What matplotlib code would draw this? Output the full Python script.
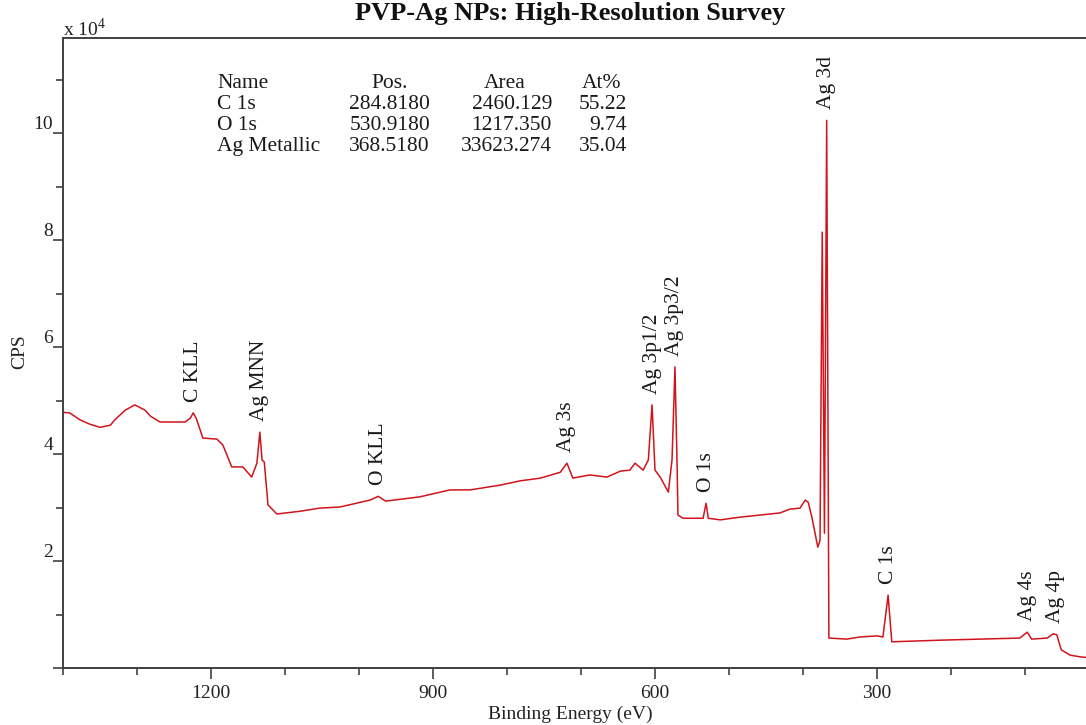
import numpy as np
import matplotlib
matplotlib.use("Agg")
import matplotlib.pyplot as plt
from matplotlib.ticker import MultipleLocator, FuncFormatter

# Survey spectrum: binding energy (eV) and counts per second
binding_energy = [
    1400, 1391, 1377, 1364, 1350, 1336, 1330, 1316, 1303, 1289, 1282, 1269,
    1255, 1235, 1228, 1224, 1220, 1211, 1192, 1184, 1172, 1157, 1145, 1138,
    1134, 1131, 1128, 1123, 1111, 1080, 1053, 1026, 985, 974, 964, 918, 877,
    850, 809, 782, 755, 728, 719, 711, 688, 665, 647, 634, 627, 616, 609,
    604, 600, 593, 582, 577, 573, 570, 569, 562, 535, 531, 528, 512, 485,
    458, 431, 418, 404, 397, 393, 388, 380, 377, 374, 371, 368, 365, 341,
    323, 300, 292, 285, 280, 215, 161, 107, 97, 91, 70, 62, 57, 51, 39, 26,
    12,
]
cps = [
    47800, 47700, 46400, 45600, 45000, 45400, 46400, 48200, 49200, 48200,
    47100, 46000, 46000, 46000, 46700, 47700, 46700, 43000, 42800, 41700,
    37600, 37600, 35700, 38300, 44100, 38900, 38500, 30500, 28800, 29300,
    29900, 30100, 31400, 32100, 31200, 32000, 33300, 33300, 34200, 35000,
    35500, 36600, 38300, 35500, 36100, 35700, 36800, 37000, 38300, 37000,
    38900, 49200, 37000, 35700, 32900, 38900, 56300, 37000, 28600, 28000,
    28000, 30800, 28000, 27700, 28200, 28600, 29000, 29700, 29900, 31400,
    31000, 28200, 22600, 23900, 81500, 25200, 102400, 5600, 5400, 5800,
    6000, 5800, 13600, 4900, 5200, 5400, 5600, 6700, 5400, 5600, 6400, 6200,
    3400, 2400, 2100, 1900,
]

# Peak assignments
peak_names = ["C KLL", "Ag MNN", "O KLL", "Ag 3s", "Ag 3p1/2", "Ag 3p3/2",
              "O 1s", "Ag 3d", "C 1s", "Ag 4s", "Ag 4p"]
peak_positions = [1224, 1134, 974, 719, 604, 573, 531, 368, 285, 97, 59]

# Quantification table
table_header = ["Name", "Pos.", "Area", "At%"]
table_names = ["C 1s", "O 1s", "Ag Metallic"]
table_pos = ["284.8180", "530.9180", "368.5180"]
table_area = ["2460.129", "1217.350", "33623.274"]
table_at = ["55.22", "9.74", "35.04"]

plt.rcParams["font.family"] = ["Liberation Serif", "DejaVu Serif"]
plt.rcParams["mathtext.fontset"] = "custom"
plt.rcParams["mathtext.rm"] = "Liberation Serif"

W, H = 1086, 725
fig = plt.figure(figsize=(W / 100, H / 100), dpi=100)


def px(x, y):
    return x / W, 1 - y / H


ax_left, ax_top, ax_bottom = 63, 38, 668
ax_right = 63 + 1400 * 0.74
ax = fig.add_axes([ax_left / W, (H - ax_bottom) / H,
                   (ax_right - ax_left) / W, (ax_bottom - ax_top) / H])

red = "#d0141c"
ax.plot(binding_energy, cps, color=red, lw=1.1)

ax.set_xlim(1400, 0)
ax.set_ylim(0, 117800)

ax.xaxis.set_major_locator(MultipleLocator(300))
ax.xaxis.set_minor_locator(MultipleLocator(100))
ax.yaxis.set_major_locator(MultipleLocator(20000))
ax.yaxis.set_minor_locator(MultipleLocator(10000))
ax.xaxis.set_major_formatter(FuncFormatter(
    lambda v, p: f"{int(v)}" if 0 < v < 1400 else ""))
ax.yaxis.set_major_formatter(FuncFormatter(
    lambda v, p: f"{int(round(v / 1e4))}" if v > 0 else ""))

spine_c = "#404040"
for s in ["left", "bottom", "top"]:
    ax.spines[s].set_color(spine_c)
    ax.spines[s].set_linewidth(1.4)
ax.spines["right"].set_visible(False)

ax.tick_params(axis="both", which="both", direction="out", color=spine_c,
               width=1.2, labelsize=14, labelcolor="#222222")
ax.tick_params(axis="x", which="major", length=8, pad=4)
ax.tick_params(axis="x", which="minor", length=5)
ax.tick_params(axis="y", which="major", length=7, pad=0)
ax.tick_params(axis="y", which="minor", length=5)
for lab in ax.get_yticklabels():
    lab.set_verticalalignment("bottom")

# Peak labels placed just above the local maximum of each feature
be = np.array(binding_energy, dtype=float)
ct = np.array(cps, dtype=float)
for name, pos in zip(peak_names, peak_positions):
    near = np.abs(be - pos) <= 4
    top = ct[near].max() if near.any() else np.interp(pos, be[::-1], ct[::-1])
    ax.annotate(name, xy=(pos, top), xytext=(0, 8), textcoords="offset points",
                rotation=90, ha="center", va="bottom", fontsize=15.5,
                color="#1a1a1a")

# Quantification table
row_y = [88, 109, 130, 151]
tc = "#1a1a1a"
fs_tab = 15.5
fig.text(*px(217, row_y[0]), table_header[0], ha="left", va="baseline",
         fontsize=fs_tab, color=tc)
fig.text(*px(390, row_y[0]), table_header[1], ha="center", va="baseline",
         fontsize=fs_tab, color=tc)
fig.text(*px(505, row_y[0]), table_header[2], ha="center", va="baseline",
         fontsize=fs_tab, color=tc)
fig.text(*px(602, row_y[0]), table_header[3], ha="center", va="baseline",
         fontsize=fs_tab, color=tc)
for i in range(len(table_names)):
    y = row_y[i + 1]
    fig.text(*px(217, y), table_names[i], ha="left", va="baseline",
             fontsize=fs_tab, color=tc)
    fig.text(*px(430, y), table_pos[i], ha="right", va="baseline",
             fontsize=fs_tab, color=tc)
    fig.text(*px(552, y), table_area[i], ha="right", va="baseline",
             fontsize=fs_tab, color=tc)
    fig.text(*px(627, y), table_at[i], ha="right", va="baseline",
             fontsize=fs_tab, color=tc)

# Scale factor, axis titles and figure title
fig.text(*px(63, 36), r"x 10$^{\mathrm{4}}$", ha="left", va="baseline",
         fontsize=14, color="#222222")
fig.text(*px(570, 719), "Binding Energy (eV)", ha="center", va="baseline",
         fontsize=14, color="#222222")
fig.text(*px(20, 352), "CPS", ha="center", va="center", rotation=90,
         fontsize=14, color="#222222")
fig.text(*px(570, 20), "PVP-Ag NPs: High-Resolution Survey", ha="center",
         va="baseline", fontsize=19, fontweight="bold", color="#111111")

fig.savefig("out.png", dpi=100)
